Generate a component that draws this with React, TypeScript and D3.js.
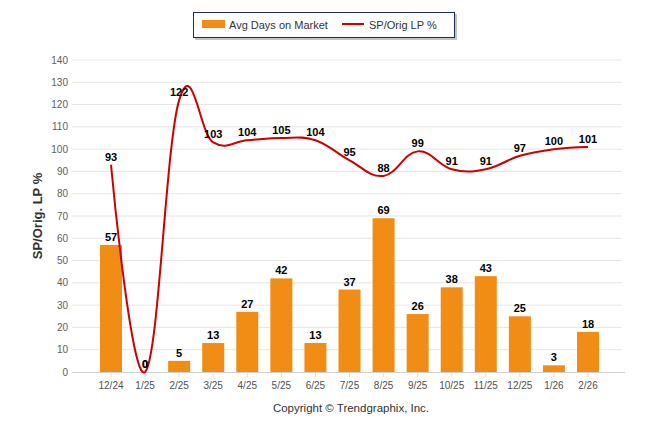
import * as d3 from "d3";

const categories = ["12/24", "1/25", "2/25", "3/25", "4/25", "5/25", "6/25", "7/25", "8/25", "9/25", "10/25", "11/25", "12/25", "1/26", "2/26"];
const avgDaysOnMarket = [57, 0, 5, 13, 27, 42, 13, 37, 69, 26, 38, 43, 25, 3, 18];
const spOrigLp = [93, 0, 122, 103, 104, 105, 104, 95, 88, 99, 91, 91, 97, 100, 101];
const yTicks = [0, 10, 20, 30, 40, 50, 60, 70, 80, 90, 100, 110, 120, 130, 140];

const W = 646;
const H = 434;
const FONT = "'Liberation Sans', Arial, sans-serif";
const BAR = "#f18d15";
const LINE = "#cc0000";

// highcharts-like spline (no clamping, so it overshoots a bit)
function splinePath(pts: [number, number][]) {
  const p = d3.path();
  const smoothing = 1.5;
  const denom = smoothing + 1;
  const rc: ([number, number] | null)[] = pts.map(() => null);
  pts.forEach(([x, y], i) => {
    let lcx = x;
    let lcy = y;
    const last = pts[i - 1];
    const next = pts[i + 1];
    if (last && next) {
      lcx = (smoothing * x + last[0]) / denom;
      lcy = (smoothing * y + last[1]) / denom;
      const rcx = (smoothing * x + next[0]) / denom;
      let rcy = (smoothing * y + next[1]) / denom;
      if (rcx !== lcx) {
        const corr = ((rcy - lcy) * (rcx - x)) / (rcx - lcx) + y - rcy;
        lcy += corr;
        rcy += corr;
      }
      rc[i] = [rcx, rcy];
    }
    if (i === 0) {
      p.moveTo(x, y);
    } else {
      const prev = rc[i - 1] || last;
      p.bezierCurveTo(prev[0], prev[1], lcx, lcy, x, y);
    }
  });
  return p.toString();
}

export default function App() {
  const x = d3.scalePoint<string>().domain(categories).range([111, 588]);
  const y = d3.scaleLinear().domain([0, 140]).range([372, 60]);
  const barW = 22;

  const linePts: [number, number][] = categories.map((c, i) => [x(c)!, y(spOrigLp[i])]);

  return (
    <svg
      width={W}
      height={H}
      style={{ position: "absolute", left: 0, top: 0, background: "#fff" }}
      fontFamily={FONT}
    >
      {/* grid */}
      {yTicks.map((t) => (
        <g key={t}>
          {t > 0 && <line x1={72} x2={622} y1={y(t)} y2={y(t)} stroke="#e6e6e6" strokeWidth={1} />}
          <text x={68} y={y(t)} dy="0.35em" textAnchor="end" fontSize={10} fill="#606060">
            {t}
          </text>
        </g>
      ))}
      <line x1={72} x2={625} y1={372.5} y2={372.5} stroke="#d0d0d0" strokeWidth={1} />
      {categories.map((c) => (
        <g key={c}>
          <line x1={x(c)!} x2={x(c)!} y1={373} y2={377} stroke="#e0e0e0" />
          <text x={x(c)!} y={389} textAnchor="middle" fontSize={10} fill="#505050">
            {c}
          </text>
        </g>
      ))}

      {/* bars */}
      {categories.map((c, i) => (
        <rect
          key={c}
          x={x(c)! - barW / 2}
          y={y(avgDaysOnMarket[i])}
          width={barW}
          height={y(0) - y(avgDaysOnMarket[i])}
          fill={BAR}
        />
      ))}

      {/* line */}
      <path d={splinePath(linePts)} fill="none" stroke={LINE} strokeWidth={2} strokeLinejoin="round" />

      {/* labels */}
      {categories.map((c, i) => (
        <text key={"b" + c} x={x(c)!} y={y(avgDaysOnMarket[i]) - 4} textAnchor="middle" fontSize={11} fontWeight="bold" fill="#000">
          {avgDaysOnMarket[i]}
        </text>
      ))}
      {categories.map((c, i) => (
        <text key={"l" + c} x={x(c)!} y={y(spOrigLp[i]) - 4} textAnchor="middle" fontSize={11} fontWeight="bold" fill="#000">
          {spOrigLp[i]}
        </text>
      ))}

      {/* y title */}
      <text
        transform="translate(42,216) rotate(-90)"
        textAnchor="middle"
        fontSize={13}
        fontWeight="bold"
        fill="#333"
      >
        SP/Orig. LP %
      </text>

      {/* legend */}
      <rect x={195} y={14} width={262} height={26} fill="#888" opacity={0.5} />
      <rect x={193.5} y={12.5} width={261} height={25} fill="#fff" stroke="#1c2f52" strokeWidth={1} />
      <rect x={202} y={20} width={23} height={8} fill={BAR} />
      <text x={229} y={28.5} fontSize={11} fill="#333">
        Avg Days on Market
      </text>
      <line x1={342} x2={364} y1={24} y2={24} stroke={LINE} strokeWidth={2} />
      <text x={369} y={28.5} fontSize={11} fill="#333">
        SP/Orig LP %
      </text>

      {/* credit */}
      <text x={351} y={412} textAnchor="middle" fontSize={11.5} fill="#333">
        Copyright © Trendgraphix, Inc.
      </text>
    </svg>
  );
}
